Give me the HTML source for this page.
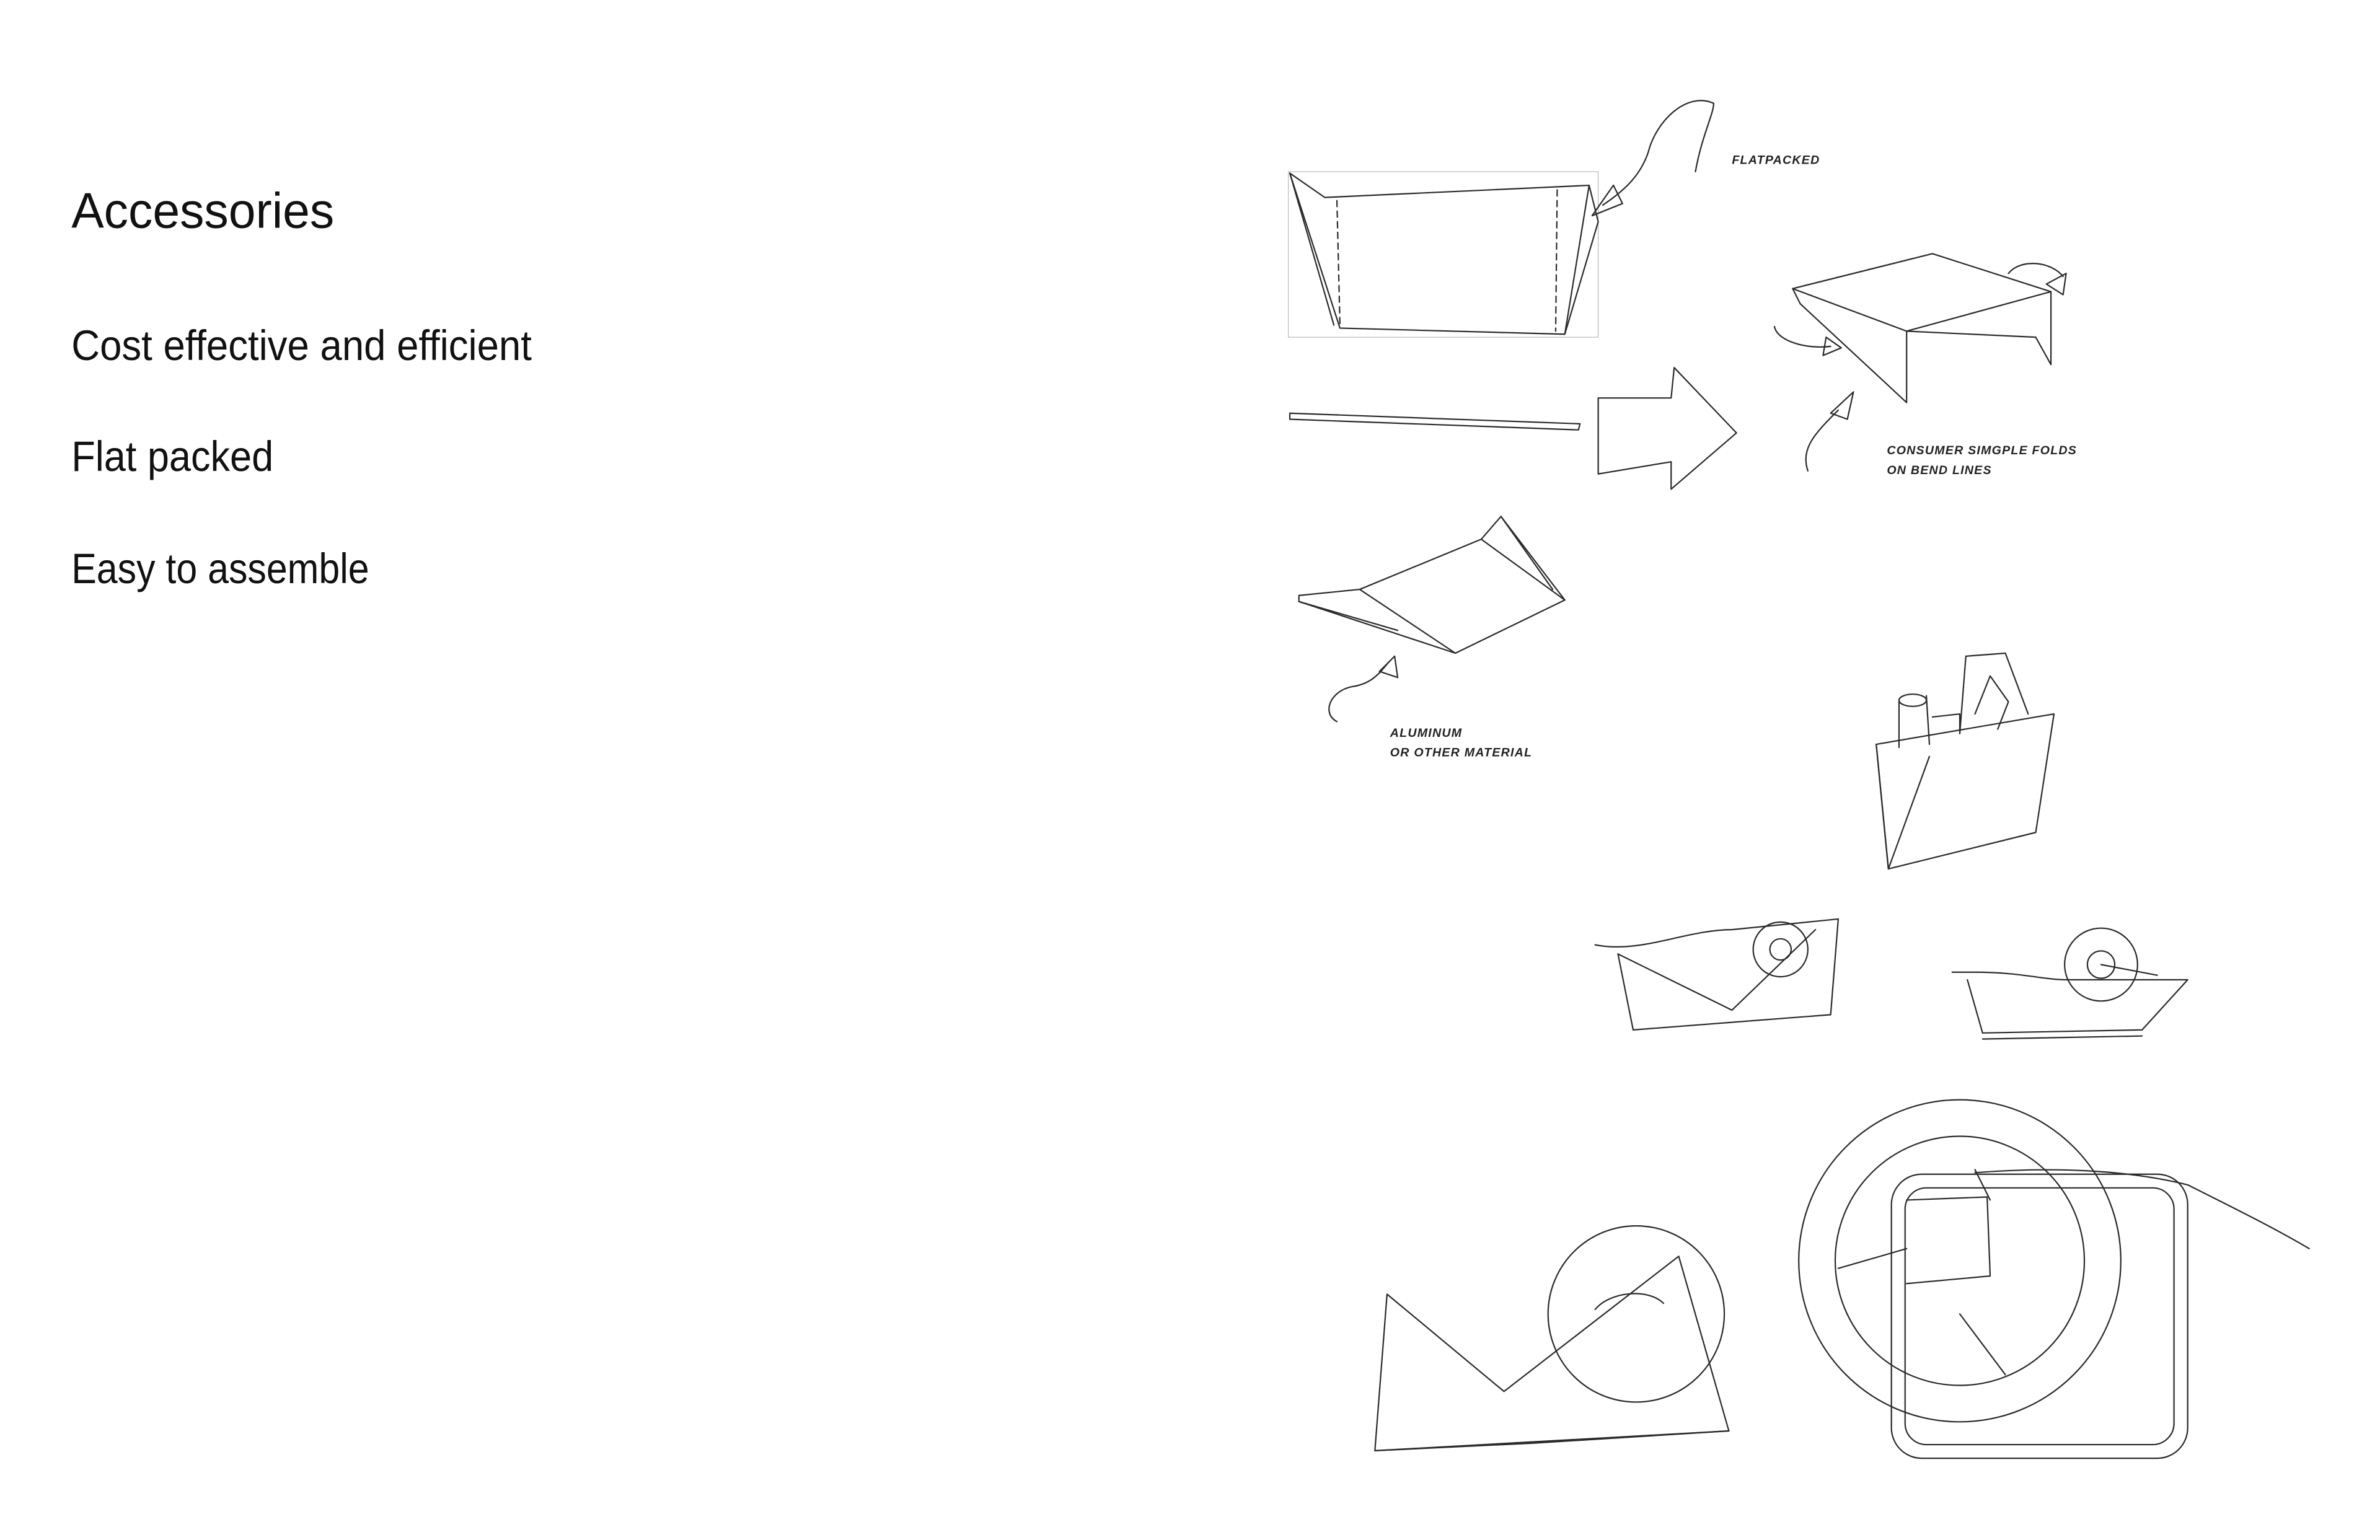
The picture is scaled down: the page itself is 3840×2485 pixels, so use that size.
<!DOCTYPE html>
<html><head><meta charset="utf-8"><style>
html,body{margin:0;padding:0;background:#fff;}
svg{display:block;}
.t{font-family:"Liberation Sans",sans-serif;fill:#111;}
.h{font-family:"Liberation Sans",sans-serif;fill:#222;font-size:8px;font-weight:bold;font-style:italic;letter-spacing:0.5px;}
.s{fill:none;stroke:#2a2a2a;stroke-width:0.9;stroke-linejoin:round;stroke-linecap:round;}
.f{fill:none;stroke:#bbb;stroke-width:0.5;}
</style></head><body>
<svg width="3840" height="2485" viewBox="0 0 1566.6 1013.8" preserveAspectRatio="none" xmlns="http://www.w3.org/2000/svg">
<rect width="1566.6" height="1013.8" fill="#fff"/>
<text class="t" x="47" y="150" font-size="33" textLength="173" lengthAdjust="spacingAndGlyphs">Accessories</text>
<text class="t" x="47" y="237" font-size="28" textLength="303" lengthAdjust="spacingAndGlyphs">Cost effective and efficient</text>
<text class="t" x="47" y="310" font-size="28" textLength="133" lengthAdjust="spacingAndGlyphs">Flat packed</text>
<text class="t" x="47" y="384" font-size="28" textLength="196" lengthAdjust="spacingAndGlyphs">Easy to assemble</text>

<!-- 1 flatpacked -->
<rect class="f" x="848" y="113" width="204" height="109"/>
<path class="s" d="M849 114 L872 130 L1046 122 L1030 220 L882 216 Z"/>
<path class="s" d="M849 114 L878 214"/>
<path class="s" d="M1046 122 L1052 146 L1030 220"/>
<path class="s" d="M880 132 L882 214 M1025 125 L1024 218" stroke-dasharray="4 3"/>
<path class="s" d="M1128 68 C1110 60 1090 80 1085 100 C1080 115 1070 125 1055 135"/>
<path class="s" d="M1048 142 L1062 122 L1068 134 Z"/>
<path class="s" d="M1116 113 C1120 90 1128 75 1128 68"/>
<text class="h" x="1140" y="108">FLATPACKED</text>

<!-- 2 bar -->
<path class="s" d="M849 272 L1040 279 L1039 283 L849 276 Z"/>

<!-- 3 big arrow -->
<path class="s" d="M1052 262 L1100 262 L1102 242 L1143 285 L1100 322 L1100 304 L1052 312 Z"/>

<!-- 4 folded table -->
<path class="s" d="M1180 190 L1272 167 L1350 192 L1255 218 Z"/>
<path class="s" d="M1180 190 L1185 200 L1255 265 L1255 218"/>
<path class="s" d="M1350 192 L1350 240 L1340 222 L1255 218"/>
<path class="s" d="M1168 215 C1170 225 1190 230 1205 228"/>
<path class="s" d="M1202 222 L1212 229 L1200 234 Z"/>
<path class="s" d="M1322 180 C1330 170 1350 172 1358 182"/>
<path class="s" d="M1347 187 L1360 180 L1358 194 Z"/>
<path class="s" d="M1190 310 C1185 295 1195 285 1210 270"/>
<path class="s" d="M1205 272 L1220 258 L1216 276 Z"/>
<text class="h" x="1242" y="299">CONSUMER SIMGPLE FOLDS</text>
<text class="h" x="1242" y="312">ON BEND LINES</text>

<!-- 5 folded sheet -->
<path class="s" d="M855 392 L895 388 L975 355 L988 340 L1030 395 L958 430 L855 396 Z"/>
<path class="s" d="M895 388 L958 430 M975 355 L1030 395 M988 340 L1022 388 M855 396 L920 415"/>
<path class="s" d="M880 475 C870 470 875 455 890 452 C905 450 910 440 915 435"/>
<path class="s" d="M908 442 L918 432 L920 446 Z"/>
<text class="h" x="915" y="485">ALUMINUM</text>
<text class="h" x="915" y="498">OR OTHER MATERIAL</text>

<!-- 6 holder -->
<path class="s" d="M1235 490 L1352 470 L1340 548 L1243 572 Z"/>
<path class="s" d="M1235 490 L1243 572 M1243 572 L1270 498"/>
<path class="s" d="M1250 462 L1250 492 M1268 458 L1270 490"/>
<ellipse class="s" cx="1259" cy="461" rx="9" ry="4"/>
<path class="s" d="M1290 483 L1294 432 L1320 430 L1335 470"/>
<path class="s" d="M1300 470 L1310 445 L1322 462 L1315 480"/>
<path class="s" d="M1272 472 L1290 470 L1290 482"/>

<!-- 7 tape dispenser 1 -->
<path class="s" d="M1050 622 C1080 628 1110 612 1140 612 L1210 605 L1205 668 L1075 678 L1065 628"/>
<path class="s" d="M1065 628 L1140 665 L1195 612"/>
<circle class="s" cx="1172" cy="625" r="18"/>
<circle class="s" cx="1172" cy="625" r="7"/>

<!-- 8 tape dispenser 2 -->
<path class="s" d="M1285 640 L1300 640 C1330 640 1345 645 1360 645 L1440 645 L1410 678 L1305 680 L1295 645"/>
<path class="s" d="M1305 684 L1410 682"/>
<circle class="s" cx="1383" cy="635" r="24"/>
<circle class="s" cx="1383" cy="635" r="9"/>
<path class="s" d="M1383 635 L1420 642"/>

<!-- 9 big M -->
<circle class="s" cx="1077" cy="865" r="58"/>
<path class="s" d="M913 852 L990 916 L1105 827 L1138 942 L1010 950 L905 955 Z"/>
<path class="s" d="M905 955 L1138 942 M1050 862 C1060 850 1085 848 1095 858"/>

<!-- 10 big ring -->
<circle class="s" cx="1290" cy="830" r="106"/>
<circle class="s" cx="1290" cy="830" r="82"/>
<rect class="s" x="1245" y="773" width="195" height="187" rx="20"/>
<rect class="s" x="1254" y="782" width="177" height="169" rx="14"/>
<path class="s" d="M1255 790 L1308 788 L1310 840 L1255 845"/>
<path class="s" d="M1210 835 L1255 822 M1290 865 L1320 905 M1300 770 L1310 790"/>
<path class="s" d="M1300 772 C1350 768 1400 770 1440 780 C1470 795 1500 810 1520 822"/>
</svg>
</body></html>
